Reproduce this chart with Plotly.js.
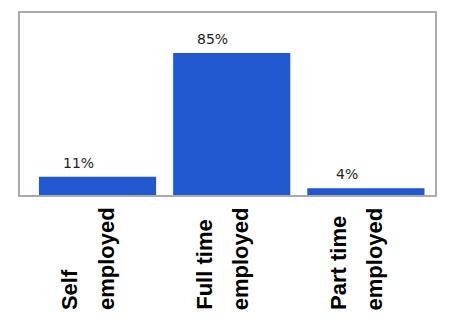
<!DOCTYPE html>
<html>
<head>
<meta charset="utf-8">
<script src="https://cdn.plot.ly/plotly-3.0.1.min.js"></script>
<style>html,body{margin:0;padding:0;background:#fff;}#chart{width:460px;height:320px;}</style>
</head>
<body>
<div id="chart"></div>
<script>
var categories = ['Self employed', 'Full time employed', 'Part time employed'];
var values = [11, 85, 4];
var valueLabels = ['11%', '85%', '4%'];
var labelLine1 = ['Self', 'Full time', 'Part time'];
var labelLine2 = ['employed', 'employed', 'employed'];

var annotations = [];
categories.forEach(function (c, i) {
  annotations.push({
    x: c, y: values[i], xref: 'x', yref: 'y', text: valueLabels[i], showarrow: false,
    xshift: -19, yshift: 14, xanchor: 'center', yanchor: 'middle',
    font: {family: 'DejaVu Sans', size: 14, color: '#222'}
  });
  annotations.push({
    x: c, y: -0.643, xref: 'x', yref: 'paper', text: labelLine1[i], showarrow: false,
    textangle: -90, xshift: -28, xanchor: 'center', yanchor: 'bottom',
    font: {family: 'Liberation Sans', size: 22, color: '#000', weight: 'bold'}
  });
  annotations.push({
    x: c, y: -0.643, xref: 'x', yref: 'paper', text: labelLine2[i], showarrow: false,
    textangle: -90, xshift: 9, xanchor: 'center', yanchor: 'bottom',
    font: {family: 'Liberation Sans', size: 22, color: '#000', weight: 'bold'}
  });
});

var data = [{
  type: 'bar', x: categories, y: values,
  marker: {color: '#2157cf'}, hoverinfo: 'none'
}];

var layout = {
  width: 460, height: 320,
  margin: {l: 20, r: 25, t: 13, b: 125, pad: 0},
  paper_bgcolor: '#fff', plot_bgcolor: '#fff',
  showlegend: false, bargap: 0.127,
  xaxis: {range: [-0.578, 2.515], showticklabels: false, ticks: '', showgrid: false,
          zeroline: false, showline: true, mirror: true, linecolor: '#aaa', linewidth: 2},
  yaxis: {range: [0, 109], showticklabels: false, ticks: '', showgrid: false,
          zeroline: false, showline: true, mirror: true, linecolor: '#aaa', linewidth: 2},
  annotations: annotations
};

Plotly.newPlot('chart', data, layout, {staticPlot: true, displayModeBar: false});
</script>
</body>
</html>
